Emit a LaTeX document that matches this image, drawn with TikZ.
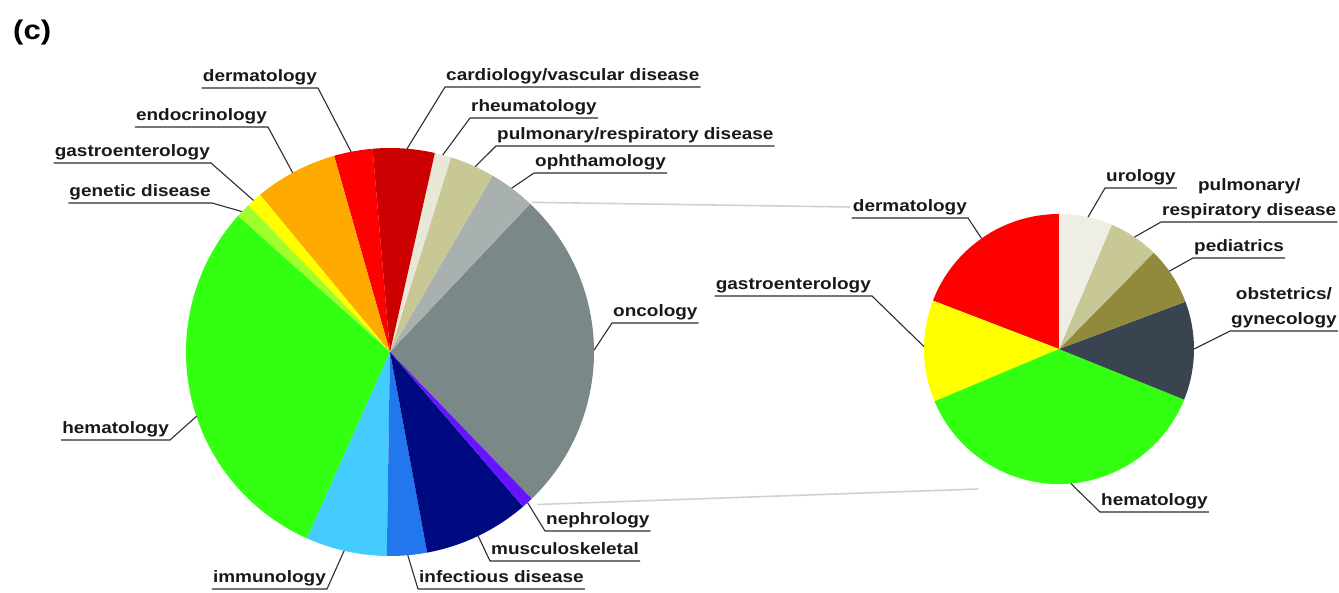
\documentclass[tikz,border=0pt]{standalone}
\usepackage{amsmath, amssymb}
\usepackage{fontspec}
\usepackage{tikz}
\usetikzlibrary{arrows.meta, positioning, calc}
\newfontfamily\lblfont{Liberation Sans}[FakeStretch=1.15]

\definecolor{hemagreen}{RGB}{51,255,17}
\definecolor{genegreen}{RGB}{160,255,40}
\definecolor{gastroyellow}{RGB}{255,255,0}
\definecolor{endoorange}{RGB}{255,170,0}
\definecolor{dermred}{RGB}{255,0,0}
\definecolor{cardred}{RGB}{204,0,0}
\definecolor{rheumpale}{RGB}{232,232,214}
\definecolor{pulmkhaki}{RGB}{200,200,150}
\definecolor{ophgray}{RGB}{168,176,176}
\definecolor{oncgray}{RGB}{122,136,136}
\definecolor{nephpurple}{RGB}{100,20,255}
\definecolor{muscnavy}{RGB}{0,10,128}
\definecolor{infblue}{RGB}{34,119,238}
\definecolor{immcyan}{RGB}{68,204,255}
\definecolor{obgynslate}{RGB}{58,68,80}
\definecolor{pedolive}{RGB}{143,138,60}
\definecolor{uropale}{RGB}{238,238,228}

\begin{document}
\begin{tikzpicture}[x=1pt, y=1pt,
        lbl/.style={font=\lblfont\bfseries\fontsize{16.5}{25}\selectfont, text=black!90, inner xsep=1pt, inner ysep=2.5pt, text depth=3.5pt},
        leader/.style={black!82, line width=1.1pt},
        linkline/.style={black!18, line width=1.6pt}]
            \useasboundingbox (0,0) rectangle (1339,-592);
            \fill[white] (0,0) rectangle (1339,-592);

            \coordinate (Lc) at (390,-352);
            \coordinate (Rc) at (1059,-349);

            \coordinate (Ltop) at ($(Lc)+(46.6:206)$);
            \coordinate (Lbot) at ($(Lc)+(-46:212)$);
            \coordinate (Rtop) at (850,-207);
            \coordinate (Rbot) at (978,-489);
            \draw[linkline] (Ltop) -- (Rtop);
            \draw[linkline] (Lbot) -- (Rbot);

            \fill[oncgray] (Lc) -- ++(-46:204) arc[start angle=-46, end angle=46.6, radius=204] -- cycle;
            \fill[ophgray] (Lc) -- ++(46.6:204) arc[start angle=46.6, end angle=59.8, radius=204] -- cycle;
            \fill[pulmkhaki] (Lc) -- ++(59.8:204) arc[start angle=59.8, end angle=72.6, radius=204] -- cycle;
            \fill[rheumpale] (Lc) -- ++(72.6:204) arc[start angle=72.6, end angle=77.3, radius=204] -- cycle;
            \fill[cardred] (Lc) -- ++(77.3:204) arc[start angle=77.3, end angle=94.9, radius=204] -- cycle;
            \fill[dermred] (Lc) -- ++(94.9:204) arc[start angle=94.9, end angle=105.9, radius=204] -- cycle;
            \fill[endoorange] (Lc) -- ++(105.9:204) arc[start angle=105.9, end angle=129.6, radius=204] -- cycle;
            \fill[gastroyellow] (Lc) -- ++(129.6:204) arc[start angle=129.6, end angle=134, radius=204] -- cycle;
            \fill[genegreen] (Lc) -- ++(134:204) arc[start angle=134, end angle=138.2, radius=204] -- cycle;
            \fill[hemagreen] (Lc) -- ++(138.2:204) arc[start angle=138.2, end angle=246, radius=204] -- cycle;
            \fill[immcyan] (Lc) -- ++(246:204) arc[start angle=246, end angle=269.1, radius=204] -- cycle;
            \fill[infblue] (Lc) -- ++(269.1:204) arc[start angle=269.1, end angle=280.5, radius=204] -- cycle;
            \fill[muscnavy] (Lc) -- ++(280.5:204) arc[start angle=280.5, end angle=310.7, radius=204] -- cycle;
            \fill[nephpurple] (Lc) -- ++(310.7:204) arc[start angle=310.7, end angle=314, radius=204] -- cycle;

            \fill[dermred] (Rc) -- ++(90:135) arc[start angle=90, end angle=159, radius=135] -- cycle;
            \fill[gastroyellow] (Rc) -- ++(159:135) arc[start angle=159, end angle=202.8, radius=135] -- cycle;
            \fill[hemagreen] (Rc) -- ++(202.8:135) arc[start angle=202.8, end angle=338, radius=135] -- cycle;
            \fill[obgynslate] (Rc) -- ++(-22:135) arc[start angle=-22, end angle=20.5, radius=135] -- cycle;
            \fill[pedolive] (Rc) -- ++(20.5:135) arc[start angle=20.5, end angle=45.5, radius=135] -- cycle;
            \fill[pulmkhaki] (Rc) -- ++(45.5:135) arc[start angle=45.5, end angle=67, radius=135] -- cycle;
            \fill[uropale] (Rc) -- ++(67:135) arc[start angle=67, end angle=90, radius=135] -- cycle;

            \node[font=\lblfont\bfseries\fontsize{27}{30}\selectfont, anchor=base west, inner sep=0pt] (panel) at (13,-39) {(c)};

            \node[lbl, anchor=south east] (Ldermatology) at (318,-88) {dermatology};
            \node[lbl, anchor=south east] (Lendocrinology) at (268,-127) {endocrinology};
            \node[lbl, anchor=south east] (Lgastro) at (211,-163) {gastroenterology};
            \node[lbl, anchor=south east] (Lgenetic) at (212,-203) {genetic disease};
            \node[lbl, anchor=south east] (Lhematology) at (170,-440) {hematology};
            \node[lbl, anchor=south east] (Limmunology) at (327,-589) {immunology};
            \node[lbl, anchor=south west] (Lcardiology) at (445,-87) {cardiology/vascular disease};
            \node[lbl, anchor=south west] (Lrheumatology) at (470,-118) {rheumatology};
            \node[lbl, anchor=south west] (Lpulmonary) at (496,-146) {pulmonary/respiratory disease};
            \node[lbl, anchor=south west] (Lophthamology) at (534,-173) {ophthamology};
            \node[lbl, anchor=south west] (Loncology) at (612,-323) {oncology};
            \node[lbl, anchor=south west] (Lnephrology) at (545,-531) {nephrology};
            \node[lbl, anchor=south west] (Lmusculo) at (490,-561) {musculoskeletal};
            \node[lbl, anchor=south west] (Linfectious) at (418,-589) {infectious disease};

            \node[lbl, anchor=south east] (Rdermatology) at (968,-218) {dermatology};
            \node[lbl, anchor=south east] (Rgastro) at (872,-296) {gastroenterology};
            \node[lbl, anchor=south west] (Rurology) at (1105,-188) {urology};
            \node[lbl, anchor=south west, align=center] (Rpulmonary) at (1161,-222) {pulmonary/\\respiratory disease};
            \node[lbl, anchor=south west] (Rpediatrics) at (1193,-258) {pediatrics};
            \node[lbl, anchor=south west, align=center] (Robgyn) at (1230,-331) {obstetrics/\\gynecology};
            \node[lbl, anchor=south west] (Rhematology) at (1100,-512) {hematology};

            \coordinate (pLderm) at ($(Lc)+(101:204)$);
            \coordinate (pLendo) at ($(Lc)+(118.5:204)$);
            \coordinate (pLgastro) at ($(Lc)+(132:204)$);
            \coordinate (pLgene) at ($(Lc)+(136.5:204)$);
            \coordinate (pLhema) at ($(Lc)+(198.4:204)$);
            \coordinate (pLimmu) at ($(Lc)+(-103:204)$);
            \coordinate (pLcard) at ($(Lc)+(85.2:204)$);
            \coordinate (pLrheum) at ($(Lc)+(75:204)$);
            \coordinate (pLpulm) at ($(Lc)+(65.3:204)$);
            \coordinate (pLoph) at ($(Lc)+(53.4:204)$);
            \coordinate (pLonco) at ($(Lc)+(0.5:204)$);
            \coordinate (pLneph) at ($(Lc)+(-47.6:204)$);
            \coordinate (pLmusc) at ($(Lc)+(-64.4:204)$);
            \coordinate (pLinf) at ($(Lc)+(-85:204)$);
            \coordinate (pRderm) at ($(Rc)+(125:135)$);
            \coordinate (pRgastro) at ($(Rc)+(179:135)$);
            \coordinate (pRuro) at ($(Rc)+(77.6:135)$);
            \coordinate (pRpulm) at ($(Rc)+(56:135)$);
            \coordinate (pRped) at ($(Rc)+(35.2:135)$);
            \coordinate (pRobgyn) at ($(Rc)+(0:135)$);
            \coordinate (pRhema) at ($(Rc)+(-85:135)$);

            \draw[leader] (Ldermatology.south west) -- (Ldermatology.south east) -- (pLderm);
            \draw[leader] (Lendocrinology.south west) -- (Lendocrinology.south east) -- (pLendo);
            \draw[leader] (Lgastro.south west) -- (Lgastro.south east) -- (pLgastro);
            \draw[leader] (Lgenetic.south west) -- (Lgenetic.south east) -- (pLgene);
            \draw[leader] (Lhematology.south west) -- (Lhematology.south east) -- (pLhema);
            \draw[leader] (Limmunology.south west) -- (Limmunology.south east) -- (pLimmu);
            \draw[leader] (Lcardiology.south east) -- (Lcardiology.south west) -- (pLcard);
            \draw[leader] (Lrheumatology.south east) -- (Lrheumatology.south west) -- (pLrheum);
            \draw[leader] (Lpulmonary.south east) -- (Lpulmonary.south west) -- (pLpulm);
            \draw[leader] (Lophthamology.south east) -- (Lophthamology.south west) -- (pLoph);
            \draw[leader] (Loncology.south east) -- (Loncology.south west) -- (pLonco);
            \draw[leader] (Lnephrology.south east) -- (Lnephrology.south west) -- (pLneph);
            \draw[leader] (Lmusculo.south east) -- (Lmusculo.south west) -- (pLmusc);
            \draw[leader] (Linfectious.south east) -- (Linfectious.south west) -- (pLinf);
            \draw[leader] (Rdermatology.south west) -- (Rdermatology.south east) -- (pRderm);
            \draw[leader] (Rgastro.south west) -- (Rgastro.south east) -- (pRgastro);
            \draw[leader] (Rurology.south east) -- (Rurology.south west) -- (pRuro);
            \draw[leader] (Rpulmonary.south east) -- (Rpulmonary.south west) -- (pRpulm);
            \draw[leader] (Rpediatrics.south east) -- (Rpediatrics.south west) -- (pRped);
            \draw[leader] (Robgyn.south east) -- (Robgyn.south west) -- (pRobgyn);
            \draw[leader] (Rhematology.south east) -- (Rhematology.south west) -- (pRhema);
        \end{tikzpicture}
\end{document}
